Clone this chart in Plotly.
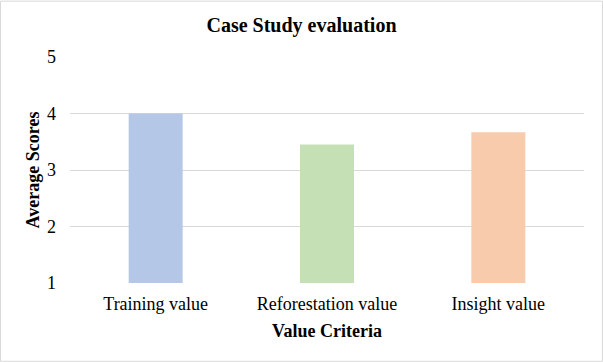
import plotly.graph_objects as go

categories = ["Training value", "Reforestation value", "Insight value"]
scores = [4.0, 3.45, 3.67]
colors = ["#B4C7E7", "#C5E0B4", "#F8CBAD"]
y_ticks = [1, 2, 3, 4, 5]

font_family = "Liberation Serif, Times New Roman, serif"

fig = go.Figure(go.Bar(
    x=categories,
    y=[s - 1 for s in scores],
    base=1,
    marker=dict(color=colors, line=dict(width=0)),
    width=0.315,
    hoverinfo="skip",
))

fig.update_layout(
    width=603, height=362,
    margin=dict(l=70, r=19, t=57, b=79),
    paper_bgcolor="white", plot_bgcolor="white",
    font=dict(family=font_family, size=18, color="#000000"),
    title=dict(text="<b>Case Study evaluation</b>", x=0.5, xanchor="center",
               y=1 - 25/362, yanchor="middle", font=dict(size=20, family=font_family)),
    showlegend=False,
    xaxis=dict(
        title=dict(text="<b>Value Criteria</b>", standoff=11, font=dict(size=18)),
        showgrid=False, showline=False, ticks="", tickfont=dict(size=18),
        range=[-0.5, 2.5], ticklabelstandoff=8,
    ),
    yaxis=dict(
        title=dict(text="<b>Average Scores</b>", standoff=2, font=dict(size=18)),
        range=[1, 5], tickvals=y_ticks, showgrid=True, gridcolor="#D9D9D9", gridwidth=1,
        zeroline=False, showline=False, ticks="", tickfont=dict(size=18),
        ticklabelstandoff=13,
    ),
    shapes=[dict(type="rect", xref="paper", yref="paper",
                 x0=-69.5/514, x1=1 + 18.5/514, y0=-78.5/226.6, y1=1 + 56/226.6,
                 line=dict(color="#D9D9D9", width=1), fillcolor="rgba(0,0,0,0)")],
)

fig.write_html("out.html", config={"displayModeBar": False},
               post_script="document.body.style.margin='0';")
